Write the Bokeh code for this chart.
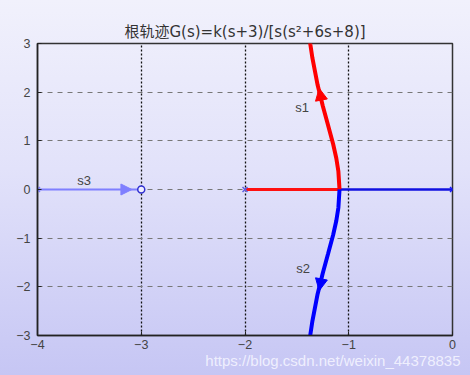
from bokeh.plotting import figure
from bokeh.models import FixedTicker, Label, Arrow, NormalHead, Range1d, Title
from bokeh.embed import file_html
from bokeh.resources import INLINE

# ---- data ----
title_text = "根轨迹G(s)=k(s+3)/[s(s²+6s+8)]"
watermark = "https://blog.csdn.net/weixin_44378835"
x_ticks = [-4, -3, -2, -1, 0]
y_ticks = [-3, -2, -1, 0, 1, 2, 3]

# branch s1 (red): pole -2 -> breakaway -> upward
s1_x = [-2.0, -1.089, -1.10, -1.12, -1.15, -1.20, -1.25, -1.30, -1.35, -1.37, -1.38]
s1_y = [0.0, 0.0, 0.374, 0.643, 0.929, 1.327, 1.714, 2.147, 2.698, 2.980, 3.143]
# branch s2 (blue): pole 0 -> breakaway -> downward
s2_x = [0.0, -1.089, -1.10, -1.12, -1.15, -1.20, -1.25, -1.30, -1.35, -1.37, -1.38]
s2_y = [0.0, 0.0, -0.374, -0.643, -0.929, -1.327, -1.714, -2.147, -2.698, -2.980, -3.143]
# branch s3 (light blue): pole -4 -> zero -3
s3_x = [-4.0, -3.0]
s3_y = [0.0, 0.0]

poles_x = [0.0, -2.0, -4.0]
poles_y = [0.0, 0.0, 0.0]
pole_colors = ["#1a1aff", "#6060e0", "#7f7fff"]
zeros_x = [-3.0]
zeros_y = [0.0]

branch_labels = ["s1", "s2", "s3"]
label_x = [-1.45, -1.44, -3.55]
label_y = [1.68, -1.62, 0.18]

W, H = 470, 375
p = figure(width=W, height=H, output_backend="svg", toolbar_location=None,
           x_range=Range1d(-4, 0), y_range=Range1d(-3, 3),
           min_border_left=37, min_border_right=18,
           min_border_top=43, min_border_bottom=40)
p.styles = {"background": "linear-gradient(to bottom, #f1f1fc 0%, #e2e2fa 45%, #c6c6f4 100%)"}
p.border_fill_color = None
p.background_fill_color = None
p.outline_line_color = "#333333"
p.outline_line_width = 1.5

p.title.text = title_text
p.title.align = "center"
p.title.text_font = "DejaVu Sans, Noto Sans CJK SC"
p.title.text_font_size = "15px"
p.title.text_font_style = "normal"
p.title.text_color = "#333333"
p.title.standoff = 6

for ax, ticks in ((p.xaxis, x_ticks), (p.yaxis, y_ticks)):
    ax.ticker = FixedTicker(ticks=ticks)
    ax.major_label_text_font = "Liberation Sans"
    ax.major_label_text_font_size = "12.5px"
    ax.major_label_text_color = "#444444"
    ax.axis_line_color = "#222222"
    ax.axis_line_width = 1.5
    ax.major_tick_in = 4
    ax.major_tick_out = 0
    ax.major_tick_line_color = "#222222"
    ax.minor_tick_line_color = None
p.xaxis.major_label_standoff = 4
p.yaxis.major_label_standoff = 7

p.xgrid.ticker = FixedTicker(ticks=[-3, -2, -1])
p.xgrid.grid_line_color = "#111111"
p.xgrid.grid_line_dash = "2 2"
p.xgrid.grid_line_width = 1.3
p.ygrid.ticker = FixedTicker(ticks=[-2, -1, 0, 1, 2])
p.ygrid.grid_line_color = "#777777"
p.ygrid.grid_line_dash = "5 5"
p.ygrid.grid_line_width = 1.2

p.line(s3_x, s3_y, line_color="#7f7fff", line_width=2)
p.line(s1_x[:2], s1_y[:2], line_color="#ff1010", line_width=3)
p.line(s2_x[:2], s2_y[:2], line_color="#1010e0", line_width=2.5)
p.line(s1_x[1:], s1_y[1:], line_color="#ff0000", line_width=4)
p.line(s2_x[1:], s2_y[1:], line_color="#0000ff", line_width=4)

p.scatter(poles_x, poles_y, marker="x", size=7, line_color=pole_colors, line_width=1.5)
p.scatter(zeros_x, zeros_y, marker="circle", size=7, line_color="#3030d0",
          fill_color="#eeeeff", line_width=1.5)

# direction arrowheads
p.add_layout(Arrow(end=NormalHead(size=12, fill_color="#ff0000", line_color="#ff0000"),
                   x_start=-1.26, y_start=1.80, x_end=-1.285, y_end=2.08,
                   line_alpha=0))
p.add_layout(Arrow(end=NormalHead(size=12, fill_color="#0000ff", line_color="#0000ff"),
                   x_start=-1.26, y_start=-1.80, x_end=-1.285, y_end=-2.08,
                   line_alpha=0))
p.add_layout(Arrow(end=NormalHead(size=11, fill_color="#7f7fff", line_color="#7f7fff"),
                   x_start=-3.4, y_start=0.0, x_end=-3.09, y_end=0.0,
                   line_alpha=0))

for t, lx, ly in zip(branch_labels, label_x, label_y):
    p.add_layout(Label(x=lx, y=ly, text=t, text_font="Liberation Sans",
                       text_font_size="13px", text_color="#444444",
                       text_align="center", text_baseline="middle"))

wm = Title(text=watermark, align="right", text_font="Liberation Sans",
           text_font_size="15px", text_color="#f4f4ff", text_alpha=0.9,
           text_font_style="normal", standoff=-4, offset=-8)
p.add_layout(wm, "below")

open("out.html", "w").write(file_html(p, INLINE))
